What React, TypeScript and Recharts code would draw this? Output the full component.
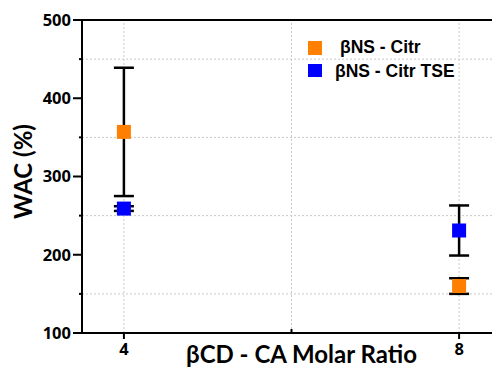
import React from 'react';
import { ScatterChart, Scatter, XAxis, YAxis, ErrorBar, ReferenceLine, Legend, Label } from 'recharts';

// ---- data ----
const ratios = [4, 8];
const citrWAC = [357, 160];
const citrErr = [82, 10];
const tseWAC = [259, 231];
const tseErr = [3, 32];
const seriesNames = ['\u03b2NS - Citr', '\u03b2NS - Citr TSE'];
const seriesColors = ['#FF8000', '#0000FF'];
const yTicks = [100, 150, 200, 250, 300, 350, 400, 450, 500];
const yLabelled = [100, 200, 300, 400, 500];
const xTicks = [4, 6, 8];
const xLabelled = [4, 8];
const gridY = [150, 250, 350, 450];
const gridX = [4, 6, 8];
const xTitle = '\u03b2CD - CA Molar Ratio';
const yTitle = 'WAC (%)';

const citrData = ratios.map((r, i) => ({ x: r, y: citrWAC[i], err: citrErr[i] }));
const tseData = ratios.map((r, i) => ({ x: r, y: tseWAC[i], err: tseErr[i] }));

const TICK_FONT = 'Open Sans';
const TITLE_FONT = 'Lato';

const makeSquare = (color: string) => (props: any) => {
  const { cx, cy } = props;
  if (cx == null || cy == null) return <g />;
  return <rect x={cx - 7} y={cy - 7} width={14} height={14} fill={color} />;
};

const YTick = (props: any) => {
  const { x, y, payload } = props;
  const major = yLabelled.includes(payload.value);
  return (
    <g>
      <line x1={major ? x + 2 : x + 8} x2={x + 11} y1={y} y2={y} stroke="#000" strokeWidth={2} />
      {major && (
        <text x={x} y={y} dy="0.36em" textAnchor="end" fontFamily={TICK_FONT} fontWeight={700} fontSize={16.5} fill="#000">
          {payload.value}
        </text>
      )}
    </g>
  );
};

const XTick = (props: any) => {
  const { x, y, payload } = props;
  const major = xLabelled.includes(payload.value);
  return (
    <g>
      {major ? (
        <line x1={x} x2={x} y1={y - 8} y2={y - 2} stroke="#000" strokeWidth={2} />
      ) : (
        <line x1={x} x2={x} y1={y - 12} y2={y - 8} stroke="#000" strokeWidth={2} />
      )}
      {major && (
        <text x={x} y={y + 14} textAnchor="middle" fontFamily={TICK_FONT} fontWeight={700} fontSize={16.5} fill="#000">
          {payload.value}
        </text>
      )}
    </g>
  );
};

const LegendContent = () => (
  <div style={{ position: 'relative', width: 180, height: 50, fontFamily: 'Liberation Sans', fontWeight: 700, fontSize: 17.5, lineHeight: '20px', color: '#000' }}>
    <div style={{ position: 'absolute', left: 8, top: 7, width: 14, height: 14, background: seriesColors[0] }} />
    <div style={{ position: 'absolute', left: 40, top: 3, whiteSpace: 'nowrap' }}>{seriesNames[0]}</div>
    <div style={{ position: 'absolute', left: 8, top: 30, width: 14, height: 13, background: seriesColors[1] }} />
    <div style={{ position: 'absolute', left: 35, top: 27, whiteSpace: 'nowrap' }}>{seriesNames[1]}</div>
  </div>
);

export default function App() {
  return (
    <div style={{ position: 'absolute', left: 0, top: 0, width: 492, height: 372, overflow: 'hidden', background: '#fff' }}>
      <ScatterChart width={520} height={372} margin={{ top: 20, right: 19, left: 0, bottom: 0 }}>
        {gridY.map((v) => (
          <ReferenceLine key={'gy' + v} y={v} stroke="#c8c8c8" strokeWidth={1} strokeDasharray="2 2" />
        ))}
        {gridX.map((v) => (
          <ReferenceLine key={'gx' + v} x={v} stroke="#c8c8c8" strokeWidth={1} strokeDasharray="2 2" />
        ))}
        <ReferenceLine y={500} stroke="#000" strokeWidth={2} />
        <XAxis
          type="number"
          dataKey="x"
          domain={[3.5, 8.5]}
          ticks={xTicks}
          allowDataOverflow
          height={39}
          tickSize={6}
          tickMargin={2}
          tickLine={false}
          axisLine={{ stroke: '#000', strokeWidth: 2 }}
          tick={<XTick />}
          interval={0}
        >
          <Label
            content={(p: any) => {
              const vb = p.viewBox;
              return (
                <text x={vb.x + vb.width / 2 + 10} y={363} textAnchor="middle" fontFamily={TITLE_FONT} fontWeight={700} fontSize={24} fill="#000">
                  {xTitle}
                </text>
              );
            }}
          />
        </XAxis>
        <YAxis
          type="number"
          dataKey="y"
          domain={[100, 500]}
          ticks={yTicks}
          allowDataOverflow
          width={82}
          tickSize={9}
          tickMargin={2}
          tickLine={false}
          axisLine={{ stroke: '#000', strokeWidth: 2 }}
          tick={<YTick />}
          interval={0}
        >
          <Label
            content={(p: any) => {
              const vb = p.viewBox;
              const cy = vb.y + vb.height / 2 - 5;
              return (
                <text x={32} y={cy} transform={`rotate(-90 32 ${cy})`} textAnchor="middle" fontFamily={TITLE_FONT} fontWeight={700} fontSize={24} fill="#000">
                  {yTitle}
                </text>
              );
            }}
          />
        </YAxis>
        <Legend
          layout="horizontal"
          verticalAlign="middle"
          align="center"
          content={<LegendContent />}
          wrapperStyle={{ position: 'absolute', left: 300, top: 34, width: 180, height: 50 }}
        />
        <Scatter name={seriesNames[0]} data={citrData} fill={seriesColors[0]} shape={makeSquare(seriesColors[0])} isAnimationActive={false}>
          <ErrorBar dataKey="err" direction="y" width={10} stroke="#000" strokeWidth={2.5} />
        </Scatter>
        <Scatter name={seriesNames[1]} data={tseData} fill={seriesColors[1]} shape={makeSquare(seriesColors[1])} isAnimationActive={false}>
          <ErrorBar dataKey="err" direction="y" width={10} stroke="#000" strokeWidth={2.5} />
        </Scatter>
      </ScatterChart>
    </div>
  );
}
